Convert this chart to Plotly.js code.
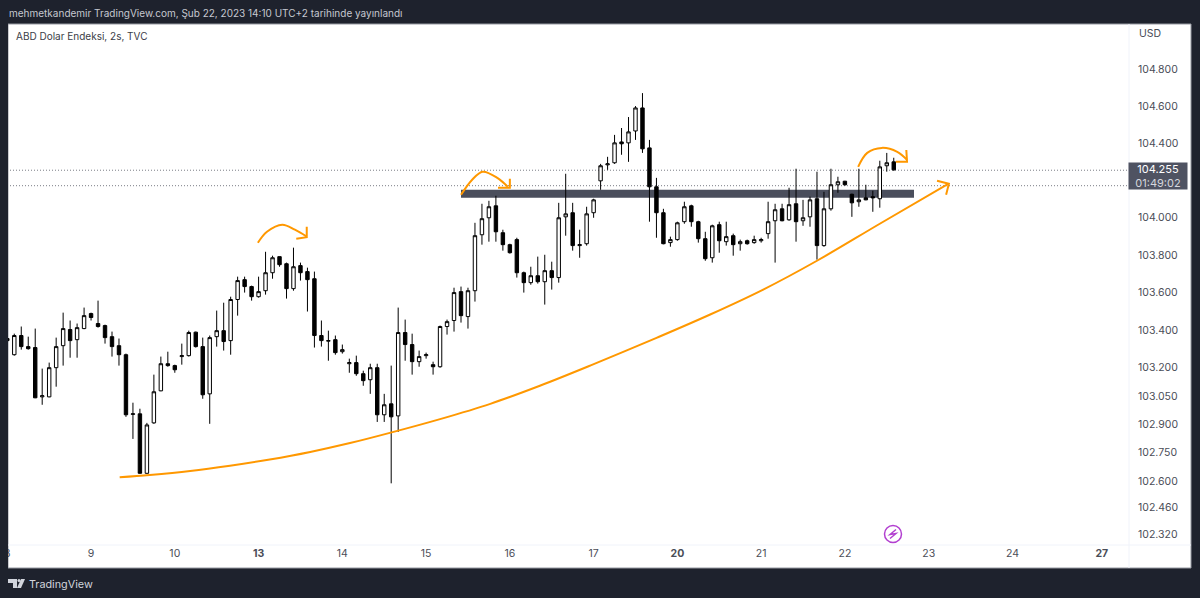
<!DOCTYPE html>
<html><head><meta charset="utf-8">
<script src="https://cdn.plot.ly/plotly-3.0.1.min.js"></script>
<style>html,body{margin:0;padding:0;background:#1e222d;overflow:hidden}
#c{position:absolute;left:0;top:0;width:1200px;height:598px}
#edge{position:absolute;left:0;top:24px;width:8px;height:544px;background:#1e222d;z-index:5}</style>
</head><body><div id="c"></div><div id="edge"></div>
<script>
const open=[103.355,103.269,103.371,103.312,103.307,103.045,103.045,103.200,103.317,103.403,103.349,103.408,103.488,103.435,103.424,103.365,103.317,103.269,102.952,102.955,102.640,102.907,103.077,103.221,103.211,103.259,103.264,103.389,103.312,103.061,103.365,103.397,103.344,103.563,103.669,103.632,103.578,103.610,103.706,103.792,103.754,103.621,103.744,103.712,103.674,103.371,103.341,103.349,103.285,103.221,103.227,103.168,103.136,103.200,102.950,103.008,102.944,103.387,103.323,103.232,103.264,103.216,103.205,103.419,103.451,103.605,103.472,103.610,103.909,104.000,104.064,103.920,103.856,103.883,103.706,103.653,103.690,103.658,103.717,103.680,104.005,104.027,103.851,103.861,104.027,104.198,104.284,104.295,104.407,104.402,104.466,104.590,104.375,104.166,104.027,103.867,103.883,103.979,104.064,103.979,103.888,103.786,103.963,103.872,103.904,103.861,103.877,103.867,103.877,103.915,103.984,104.048,103.989,104.075,103.984,104.005,104.102,103.851,104.048,104.177,104.196,104.126,104.086,104.107,104.113,104.102,104.279,104.300];
const high=[103.360,103.381,103.419,103.365,103.408,103.195,103.227,103.360,103.493,103.451,103.435,103.520,103.493,103.557,103.429,103.392,103.355,103.275,103.014,102.982,102.907,103.163,103.259,103.285,103.216,103.328,103.397,103.392,103.360,103.371,103.504,103.546,103.578,103.685,103.685,103.637,103.685,103.818,103.797,103.792,103.760,103.840,103.760,103.733,103.712,103.451,103.397,103.371,103.323,103.248,103.264,103.184,103.221,103.221,103.061,103.211,103.520,103.456,103.381,103.291,103.280,103.232,103.424,103.456,103.626,103.632,103.626,103.973,104.075,104.091,104.118,103.936,103.861,103.893,103.712,103.738,103.792,103.802,103.765,104.080,104.236,104.080,103.936,104.059,104.102,104.289,104.327,104.445,104.482,104.541,104.600,104.670,104.418,104.214,104.048,103.899,103.979,104.086,104.070,103.984,103.925,103.963,103.979,103.979,103.915,103.883,103.883,103.904,103.893,104.086,104.075,104.075,104.161,104.263,104.096,104.113,104.247,104.139,104.263,104.220,104.198,104.129,104.263,104.177,104.145,104.306,104.348,104.322];
const low=[103.339,103.264,103.296,103.296,103.038,103.003,103.043,103.099,103.211,103.253,103.253,103.405,103.451,103.413,103.328,103.259,103.211,102.939,102.822,102.638,102.638,102.902,103.075,103.205,103.173,103.216,103.259,103.307,103.035,102.902,103.312,103.291,103.269,103.477,103.600,103.557,103.573,103.589,103.674,103.738,103.568,103.610,103.664,103.499,103.307,103.312,103.237,103.269,103.275,103.173,103.157,103.104,103.061,102.912,102.912,102.587,102.859,103.237,103.163,103.205,103.248,103.163,103.200,103.376,103.392,103.440,103.408,103.552,103.856,103.872,103.872,103.824,103.808,103.680,103.600,103.642,103.648,103.536,103.616,103.653,103.904,103.824,103.786,103.851,104.000,104.150,104.257,104.289,104.338,104.300,104.418,104.348,103.979,103.893,103.858,103.845,103.877,103.968,103.952,103.867,103.770,103.760,103.813,103.851,103.797,103.824,103.856,103.861,103.867,103.888,103.760,103.981,103.984,103.872,103.957,103.952,103.776,103.845,104.038,104.134,104.172,104.005,104.059,104.094,104.032,104.054,104.247,104.252];
const close=[103.344,103.371,103.312,103.301,103.040,103.051,103.200,103.312,103.408,103.344,103.413,103.477,103.467,103.419,103.360,103.312,103.269,102.950,102.955,102.640,102.896,103.072,103.221,103.211,103.189,103.264,103.387,103.312,103.056,103.360,103.397,103.339,103.563,103.664,103.632,103.578,103.605,103.706,103.786,103.749,103.621,103.738,103.706,103.669,103.371,103.344,103.344,103.280,103.296,103.227,103.168,103.131,103.200,102.950,103.003,102.939,103.387,103.323,103.232,103.259,103.269,103.205,103.419,103.445,103.600,103.477,103.610,103.904,103.995,104.059,103.925,103.856,103.813,103.706,103.653,103.690,103.658,103.717,103.680,104.000,104.021,103.851,103.856,104.021,104.096,104.279,104.289,104.402,104.397,104.461,104.590,104.370,104.166,104.027,103.861,103.883,103.973,104.059,103.979,103.888,103.781,103.957,103.877,103.899,103.856,103.872,103.861,103.883,103.883,103.979,104.043,103.984,104.070,103.979,104.000,104.096,103.851,104.048,104.177,104.193,104.177,104.080,104.096,104.096,104.107,104.273,104.295,104.257];
const barIndex=open.map((_,i)=>i);

const dayTicks=[0,12,24,36,48,60,72,84,96,108,120,132,144,156.8];
const dayLabels=['8','9','10','<b>13</b>','14','15','16','17','<b>20</b>','21','22','23','24','<b>27</b>'];
const priceTicks=[104.8,104.6,104.4,104.0,103.8,103.6,103.4,103.2,103.05,102.9,102.75,102.6,102.46,102.32];
const priceLabels=['104.800','104.600','104.400','104.000','103.800','103.600','103.400','103.200','103.050','102.900','102.750','102.600','102.460','102.320'];

const curveX=[16.1,20.4,26.2,31.9,37.6,43.4,49.1,54.8,62.0,69.2,76.3,83.5,93.1,100.7,108.3,116.0,125.0,134.8];
const curveY=[102.619,102.631,102.652,102.680,102.713,102.753,102.800,102.854,102.927,103.008,103.104,103.211,103.360,103.483,103.616,103.770,103.968,104.182];
const curveHeadX=[133.2,134.9,134.5];
const curveHeadY=[104.198,104.182,104.123];
const arc1X=[35.9,37.2,39.4,41.2,42.9], arc1Y=[103.866,103.925,103.963,103.936,103.899];
const head1X=[42.9,42.9,41.4], head1Y=[103.952,103.896,103.888];
const arc2X=[65.0,66.6,68.1,70.2,71.7], arc2Y=[104.123,104.204,104.247,104.214,104.166];
const head2X=[72.0,72.0,70.3], head2Y=[104.209,104.161,104.161];
const arc3X=[121.9,123.2,125.3,127.5,128.9], arc3Y=[104.273,104.348,104.375,104.354,104.311];
const head3X=[128.8,128.9,127.3], head3Y=[104.364,104.300,104.300];

const levelLast=104.255, levelPrev=104.172;
const zoneX=[65.0,129.9], zoneY=[104.107,104.150];

const ORANGE='#ff9800', DARK='#1e222d';
const W=1200,H=598,L=1,R=71,T=24,B=53;
const px=x=>(x-L)/(W-L-R), py=y=>1-(y-T)/(H-T-B);
const xAt=x=>(x-7.3)/6.98;

function stroke(x,y,spline){return {x,y,type:'scatter',mode:'lines',hoverinfo:'skip',showlegend:false,
  line:{color:ORANGE,width:2,shape:spline?'spline':'linear',smoothing:1}};}

const traces=[
 {type:'candlestick',x:barIndex,open,high,low,close,hoverinfo:'skip',showlegend:false,whiskerwidth:0,
  increasing:{line:{color:'#000',width:1},fillcolor:'#fff'},
  decreasing:{line:{color:'#000',width:1},fillcolor:'#000'}},
 stroke(curveX,curveY,true),stroke(curveHeadX,curveHeadY),
 stroke(arc1X,arc1Y,true),stroke(head1X,head1Y),
 stroke(arc2X,arc2Y,true),stroke(head2X,head2Y),
 stroke(arc3X,arc3Y,true),stroke(head3X,head3Y)
];

const TXT={family:'Inter, "Liberation Sans", sans-serif'};
const shapes=[
 {type:'rect',xref:'paper',yref:'paper',x0:px(8),x1:px(1191),y0:py(24),y1:py(568),fillcolor:'#fff',line:{color:'#9598a1',width:1},layer:'below'},
 {type:'line',xref:'paper',yref:'paper',x0:px(1129),x1:px(1129),y0:py(24),y1:py(568),line:{color:'#f0f3fa',width:1},layer:'below'},
 {type:'line',xref:'paper',yref:'paper',x0:px(8),x1:px(1191),y0:py(545),y1:py(545),line:{color:'#f0f3fa',width:1},layer:'below'},
 {type:'line',xref:'paper',yref:'y',x0:0,x1:1,y0:levelLast,y1:levelLast,line:{color:'#7a7d86',width:1,dash:'1px,2px'},layer:'below'},
 {type:'line',xref:'paper',yref:'y',x0:0,x1:1,y0:levelPrev,y1:levelPrev,line:{color:'#7a7d86',width:1,dash:'1px,2px'},layer:'below'},
 {type:'rect',xref:'x',yref:'y',x0:zoneX[0],x1:zoneX[1],y0:zoneY[0],y1:zoneY[1],fillcolor:'#4a4e5c',line:{width:0},layer:'below'},
 {type:'circle',xref:'paper',yref:'paper',x0:px(884.5),x1:px(901.5),y0:py(525.5),y1:py(542.5),fillcolor:'#fff',line:{color:'#b23fd0',width:1.5}},
 {type:'path',xref:'paper',yref:'paper',path:`M ${px(896)} ${py(529.5)} L ${px(890)} ${py(534.5)} L ${px(896)} ${py(533.5)} L ${px(890)} ${py(538.5)}`,line:{color:'#b23fd0',width:1.5}},
 {type:'path',xref:'paper',yref:'paper',path:`M ${px(8)} ${py(579)} L ${px(17)} ${py(579)} L ${px(17)} ${py(588)} L ${px(13)} ${py(588)} L ${px(13)} ${py(583)} L ${px(8)} ${py(583)} Z`,fillcolor:'#d1d4dc',line:{width:0}},
 {type:'circle',xref:'paper',yref:'paper',x0:px(17.5),x1:px(20.5),y0:py(579),y1:py(582),fillcolor:'#d1d4dc',line:{width:0}},
 {type:'path',xref:'paper',yref:'paper',path:`M ${px(21)} ${py(579)} L ${px(25)} ${py(579)} L ${px(21)} ${py(588)} L ${px(17)} ${py(588)} Z`,fillcolor:'#d1d4dc',line:{width:0}}
];

const ann=(x,y,text,size,color,anchor='left',extra={})=>Object.assign({xref:'paper',yref:'paper',x:px(x),y:py(y),text,showarrow:false,
  xanchor:anchor,yanchor:'middle',font:{...TXT,size,color},xshift:0,yshift:0},extra);
const annotations=[
 ann(6.5,13,'mehmetkandemir TradingView.com, Şub 22, 2023 14:10 UTC+2 tarihinde yayınlandı',10,'#c5c8d0'),
 ann(13.5,36,'ABD Dolar Endeksi, 2s, TVC',10,'#3a3d47'),
 ann(1136.5,34,'USD',10.5,'#4a4d57'),
 ann(26.5,584,'TradingView',10.8,'#d1d4dc'),
 ann(1158,176,'104.255<br><span style="color:#d5d7de">01:49:02</span>',11,'#fff','center',
   {bgcolor:'#4f5362',width:58,height:26,borderpad:0,align:'center'})
];

const layout={
 width:W,height:H,paper_bgcolor:DARK,plot_bgcolor:'rgba(0,0,0,0)',showlegend:false,dragmode:false,
 margin:{l:L,r:R,t:T,b:B,pad:0},
 xaxis:{type:'linear',range:[xAt(L),xAt(1129)],tickmode:'array',tickvals:dayTicks,ticktext:dayLabels,
   showgrid:false,zeroline:false,showline:false,ticks:'',rangeslider:{visible:false},fixedrange:true,
   tickfont:{...TXT,size:10.5,color:'#4a4d57'},ticklabelstandoff:0},
 yaxis:{type:'log',side:'right',range:[2.009713,2.021368],tickmode:'array',tickvals:priceTicks,ticktext:priceLabels,
   showgrid:false,zeroline:false,showline:false,ticks:'',fixedrange:true,
   tickfont:{...TXT,size:10.5,color:'#4a4d57'},ticklabelstandoff:8},
 shapes,annotations
};
Plotly.newPlot('c',traces,layout,{displayModeBar:false,staticPlot:true});
</script></body></html>
